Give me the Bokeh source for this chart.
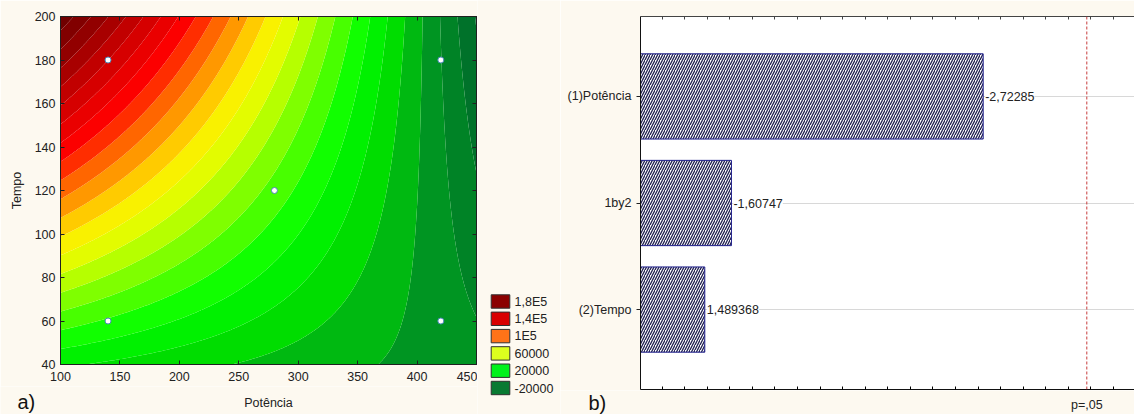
import numpy as np
from bokeh.plotting import figure
from bokeh.models import (Range1d, LinearAxis, FixedTicker, LabelSet,
                          ColumnDataSource, Span, CustomJSTickFormatter)
from bokeh.layouts import row, column
from bokeh.embed import file_html
from bokeh.resources import INLINE
from bokeh.core.properties import value

# ---------------- data ----------------
# (a) design points (2^2 factorial with centre point)
potencia_pts = [140, 140, 420, 420, 280]
tempo_pts = [60, 180, 60, 180, 120]
# fitted surface, coded units: z = b0 + k*(e1*P + e2*T + e12*P*T)
surf_b0 = 26000
surf_k = 19600
surf_e1 = -2.72285
surf_e2 = 1.489368
surf_e12 = -1.60747
pot_centre, pot_half = 280, 140
tempo_centre, tempo_half = 120, 60
contour_step = 10000
legend_labels = ["1,8E5", "1,4E5", "1E5", "60000", "20000", "-20000"]
legend_colors = ["#8b0000", "#d90000", "#ff7318", "#dcff1e", "#00f21a", "#087a32"]
x_ticks_a = [100, 150, 200, 250, 300, 350, 400, 450]
y_ticks_a = [40, 60, 80, 100, 120, 140, 160, 180, 200]
x_title_a, y_title_a = "Potência", "Tempo"

# (b) Pareto chart of standardized effects
effect_names = ["(1)Potência", "1by2", "(2)Tempo"]
effect_values = [-2.72285, -1.60747, 1.489368]
p05_t = 3.182
p05_label = "p=,05"

# ---------------- style / layout ----------------
CREAM = "#fdf9f0"
FONT = "Liberation Sans"
FS = "12.5px"
TXT = "#222222"
TAG_FONT, TAG_FS = "Liberation Sans", "20px"
color_anchor_z = [-55000, -25000, -5000, 12000, 52000, 68000, 95000, 113000, 123000,
                  142000, 161000, 185000]
color_anchor_c = ["#00602e", "#009522", "#00dd00", "#00ff00", "#ddff00", "#ffee00",
                  "#ff6600", "#ff0000", "#ee0000", "#c80000", "#990000", "#700000"]

A_W, A_H, A_L, A_T, A_B = 477, 386, 60, 16, 22      # panel a canvas / borders
L_W = 83                                             # legend canvas width
B_W, B_H, B_L, B_T = 574, 390, 80, 16                # panel b canvas / borders
TOTAL_H = 414
B_X0, B_X1 = 1.2045, 3.3933                          # visible range of panel b


def _rgb(h):
    return [int(h[i:i + 2], 16) for i in (1, 3, 5)]


def band_color(z):
    cs = np.array([_rgb(c) for c in color_anchor_c], dtype=float)
    r = np.interp(z, color_anchor_z, cs[:, 0])
    g = np.interp(z, color_anchor_z, cs[:, 1])
    b = np.interp(z, color_anchor_z, cs[:, 2])
    return "#%02x%02x%02x" % (int(round(r)), int(round(g)), int(round(b)))


def style_axis(ax):
    ax.minor_tick_line_color = None
    ax.axis_line_color = "#202020"
    ax.major_tick_line_color = "#202020"
    ax.major_label_text_font = FONT
    ax.major_label_text_font_size = FS
    ax.major_label_text_color = TXT
    ax.axis_label_text_font = FONT
    ax.axis_label_text_font_size = FS
    ax.axis_label_text_font_style = "normal"
    ax.axis_label_text_color = TXT


def mirror_axis(ticks, tick_in, color="#202020"):
    return LinearAxis(ticker=FixedTicker(ticks=ticks),
                      formatter=CustomJSTickFormatter(code="return ''"),
                      major_tick_in=tick_in, major_tick_out=0, minor_tick_line_color=None,
                      major_label_text_font_size="0px", major_label_standoff=0,
                      axis_line_color=color, major_tick_line_color=color)


def blank_canvas(width, height, x_range, y_range):
    f = figure(width=width, height=height, x_range=x_range, y_range=y_range,
               output_backend="svg", toolbar_location=None, min_border=0,
               border_fill_color=CREAM, background_fill_color=CREAM, outline_line_color=None,
               frame_align=False)
    f.axis.visible = False
    f.grid.visible = False
    return f


# ---------------- panel a ----------------
gx = np.linspace(100, 450, 320)
gy = np.linspace(40, 200, 320)
GX, GY = np.meshgrid(gx, gy)
P = (GX - pot_centre) / pot_half
T = (GY - tempo_centre) / tempo_half
Z = surf_b0 + surf_k * (surf_e1 * P + surf_e2 * T + surf_e12 * P * T)
lo = np.floor(Z.min() / contour_step) * contour_step
hi = np.ceil(Z.max() / contour_step) * contour_step
levels = np.arange(lo, hi + contour_step, contour_step)
band_colors = [band_color(0.5 * (levels[i] + levels[i + 1])) for i in range(len(levels) - 1)]

pa = figure(width=A_W, height=A_H, x_range=Range1d(100, 450), y_range=Range1d(40, 200),
            output_backend="svg", toolbar_location=None, frame_align=False,
            min_border_left=A_L, min_border_right=1, min_border_top=A_T, min_border_bottom=A_B,
            border_fill_color=CREAM, background_fill_color="white",
            outline_line_color="#202020", outline_line_width=1)
pa.grid.visible = False
pa.contour(x=gx, y=gy, z=Z, levels=levels, fill_color=band_colors)
pa.scatter(potencia_pts, tempo_pts, size=6, fill_color="white",
           line_color="#4a86b8", line_width=1)

pa.xaxis.ticker = FixedTicker(ticks=x_ticks_a)
pa.yaxis.ticker = FixedTicker(ticks=y_ticks_a)
pa.yaxis.axis_label = y_title_a
for ax in (pa.xaxis[0], pa.yaxis[0]):
    style_axis(ax)
    ax.major_tick_in = 4
    ax.major_tick_out = 0
pa.xaxis.major_label_standoff = 7
pa.yaxis.major_label_standoff = 5
pa.yaxis.axis_label_standoff = 8
pa.add_layout(mirror_axis(x_ticks_a, 4), "above")
pa.add_layout(mirror_axis(y_ticks_a, 4), "right")

# strip under panel a: x-axis title and the "a)" tag, on the same x scale
a_ppu = (A_W - A_L - 1) / (450 - 100)
sa = blank_canvas(A_W, TOTAL_H - A_H,
                  Range1d(100 - A_L / a_ppu, 100 + (A_W - A_L) / a_ppu),
                  Range1d(TOTAL_H, A_H))
sa.text(x=[(100 + 450) / 2], y=[402.5], text=[x_title_a], text_align="center",
        text_baseline="middle", text_font=value(FONT), text_font_size=FS, text_color=TXT)
sa.text(x=[100 - 43 / a_ppu], y=[401.5], text=["a)"], text_align="left",
        text_baseline="middle", text_font=value(TAG_FONT), text_font_size=TAG_FS,
        text_color="#111111")

# ---------------- legend of panel a (own canvas) ----------------
pl = blank_canvas(L_W, TOTAL_H, Range1d(0, L_W), Range1d(TOTAL_H, 0))
row_y = [301 + 17.3 * i for i in range(len(legend_labels))]
pl.rect(x=23, y=row_y, width=18.6, height=13.4, fill_color=legend_colors,
        line_color="#303030", line_width=1)
pl.text(x=37, y=row_y, text=legend_labels, text_baseline="middle",
        text_font=value(FONT), text_font_size=FS, text_color=TXT)

# ---------------- panel b ----------------
ypos = list(range(len(effect_names), 0, -1))
src = ColumnDataSource(dict(
    y=ypos,
    mag=[abs(v) for v in effect_values],
    txt=[str(v).replace(".", ",") for v in effect_values],
))
tick_01 = [round(1.3 + 0.1 * i, 1) for i in range(21)]

pb = figure(width=B_W, height=B_H, x_range=Range1d(B_X0, B_X1), y_range=Range1d(0.25, 3.75),
            output_backend="svg", toolbar_location=None, frame_align=False,
            min_border_left=B_L, min_border_right=0, min_border_top=B_T, min_border_bottom=1,
            border_fill_color=CREAM, background_fill_color="white", outline_line_color=None)
pb.xgrid.visible = False
pb.ygrid.ticker = FixedTicker(ticks=ypos)
pb.ygrid.grid_line_color = "#b0b0b0"
pb.ygrid.grid_line_dash = "1 1"

pb.hbar(y="y", left=0, right="mag", height=0.8, source=src, fill_color="white",
        line_color="#1e1e8c", line_width=1, hatch_pattern="/", hatch_color="#20204f",
        hatch_scale=5, hatch_weight=1.3)
pb.add_layout(LabelSet(x="mag", y="y", text="txt", source=src, x_offset=2,
                       text_baseline="middle", text_font=value(FONT), text_font_size=FS,
                       text_color=TXT, background_fill_color="white"))
pb.add_layout(Span(location=p05_t, dimension="height", line_color="#c83c3c",
                   line_dash="3 2", line_width=1))

pb.yaxis.ticker = FixedTicker(ticks=ypos)
pb.yaxis.major_label_overrides = {y: n for y, n in zip(ypos, effect_names)}
style_axis(pb.yaxis[0])
pb.yaxis.major_tick_in = 0
pb.yaxis.major_tick_out = 4
pb.yaxis.major_label_standoff = 5
pb.yaxis.axis_line_color = "#111111"

pb.xaxis.ticker = FixedTicker(ticks=tick_01)
pb.xaxis.formatter = CustomJSTickFormatter(code="return ''")
pb.xaxis.major_label_text_font_size = "0px"
pb.xaxis.major_label_standoff = 0
pb.xaxis.major_tick_in = 3
pb.xaxis.major_tick_out = 0
pb.xaxis.minor_tick_line_color = None
pb.xaxis.axis_line_color = "#111111"
pb.add_layout(mirror_axis(tick_01, 3, "#444444"), "above")

# strip under panel b: p=,05 label (same x scale) and the "b)" tag
b_ppu = (B_W - B_L) / (B_X1 - B_X0)
sb = blank_canvas(B_W, TOTAL_H - B_H, Range1d(B_X0 - B_L / b_ppu, B_X1),
                  Range1d(TOTAL_H, B_H))
sb.text(x=[p05_t], y=[404.5], text=[p05_label], text_align="center",
        text_baseline="middle", text_font=value(FONT), text_font_size=FS, text_color=TXT)
sb.text(x=[B_X0 - 52 / b_ppu], y=[402], text=["b)"], text_align="left",
        text_baseline="middle", text_font=value(TAG_FONT), text_font_size=TAG_FS,
        text_color="#111111")

layout = row(column(pa, sa), pl, column(pb, sb))
open("out.html", "w").write(file_html(layout, INLINE))
